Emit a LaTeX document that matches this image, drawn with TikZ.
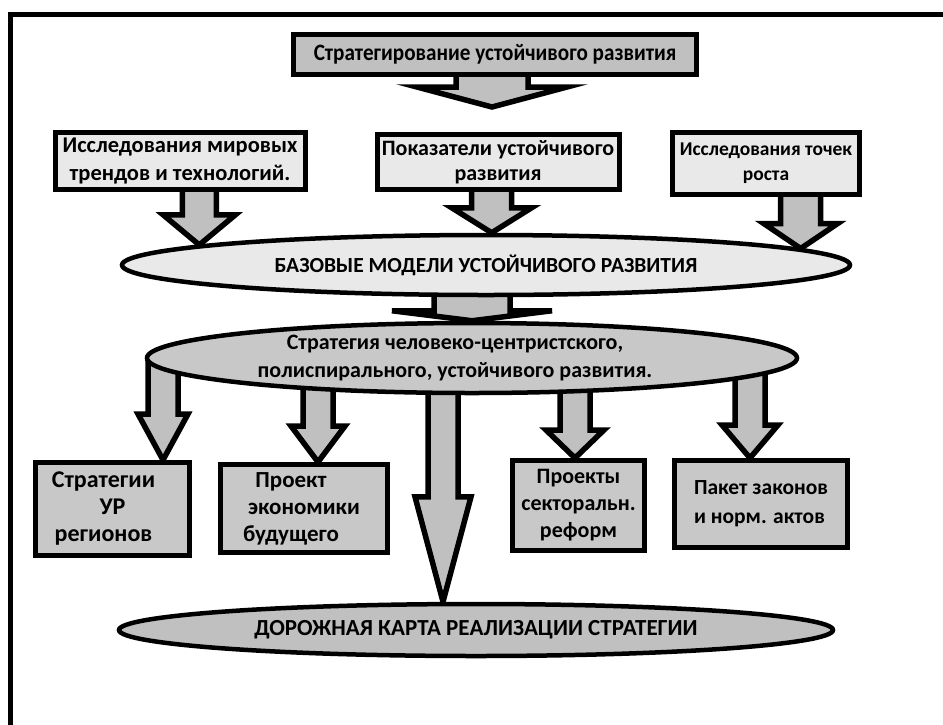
\documentclass[tikz,border=0pt]{standalone}
\usepackage{fontspec}
\setmainfont{Carlito}
\newfontfamily\schmal[FakeStretch=0.9]{Carlito}
\usetikzlibrary{shapes.geometric,calc,backgrounds}

\definecolor{hellgrau}{HTML}{E9E9E9}
\definecolor{mittelgrau}{HTML}{C8C8C8}
\definecolor{dunkelgrau}{HTML}{C0C0C0}

\tikzset{
	kasten/.style={draw, rectangle, line width=5pt, inner sep=0pt, align=center},
	oval/.style={draw, ellipse, line width=4.5pt, inner sep=0pt, align=center},
	fs/.style 2 args={font=\bfseries\fontsize{#1}{#2}\selectfont},
	blk/.style={draw, line width=5.5pt, fill=dunkelgrau, line join=miter},
}

% Blockpfeil: #1 Quelle (nur y), #2 Spitze, #3 halbe Schaftbreite, #4 halbe Kopfbreite, #5 Kopflaenge
\newcommand{\blockpfeil}[5]{%
	\draw[blk] let \p1=(#1), \p2=(#2) in
		(\x2-#3pt,\y1) -- (\x2-#3pt,\y2+#5pt) -- (\x2-#4pt,\y2+#5pt) -- (\x2,\y2)
		-- (\x2+#4pt,\y2+#5pt) -- (\x2+#3pt,\y2+#5pt) -- (\x2+#3pt,\y1) -- cycle;}

\begin{document}
\begin{tikzpicture}[x=1pt, y=-1pt]
	\useasboundingbox (0,0) rectangle (943,724);
	\clip (0,0) rectangle (943,724);
	%% Rahmen
	\draw[line width=5pt] (10,740) -- (10,14) -- (960,14);

	%% Kopf
	\node[kasten, fill=dunkelgrau, minimum width=403pt, minimum height=40pt, font=\schmal\bfseries\fontsize{23.5}{28}\selectfont] (top) at (495,54.5) {Стратегирование устойчивого развития};
	\coordinate (toptip) at ([xshift=-3pt, yshift=-30pt]top.south);

	%% Erste Reihe
	\node[kasten, fs={22.5}{28}, fill=hellgrau, minimum width=250pt, minimum height=57pt] (trends) at (180,161) {Исследования мировых\\трендов и технологий.};
	\node[kasten, fs={22}{25}, fill=hellgrau, minimum width=242pt, minimum height=55pt] (indic) at (498,162) {Показатели устойчивого\\развития};
	\node[kasten, fs={19.5}{25}, fill=hellgrau, minimum width=187pt, minimum height=62pt] (growth) at (766,163.5) {Исследования точек\\роста};

	%% Ovale
	\node[oval, fs={21.5}{26}, fill=hellgrau, minimum width=728pt, minimum height=60pt] (base) at (486,265) {БАЗОВЫЕ МОДЕЛИ УСТОЙЧИВОГО РАЗВИТИЯ};
	\node[oval, fs={22}{28}, fill=mittelgrau, minimum width=650pt, minimum height=70pt] (strat) at (472,358) {Стратегия человеко-центристского,\hspace*{34pt}\\полиспирального, устойчивого развития.\hspace*{34pt}};
	\node[oval, fs={23}{28}, fill=dunkelgrau, minimum width=714pt, minimum height=52pt] (road) at (476,630) {ДОРОЖНАЯ КАРТА РЕАЛИЗАЦИИ СТРАТЕГИИ};

	%% Untere Reihe
	\node[kasten, fs={24}{27}, fill=mittelgrau, minimum width=154pt, minimum height=93pt] (reg) at (112.5,509) {Стратегии\hspace*{18pt}\\УР\hspace*{18pt}\\регионов\hspace*{18pt}};
	\node[kasten, fs={23}{27}, fill=mittelgrau, minimum width=167pt, minimum height=88pt] (proj) at (304,508.5) {Проект\hspace*{26pt}\\экономики\hspace*{26pt}\\будущего\hspace*{26pt}};
	\node[kasten, fs={22}{27}, fill=mittelgrau, minimum width=132pt, minimum height=90pt] (sect) at (578.5,505.5) {Проекты\\секторальн.\\реформ};
	\node[kasten, fs={21.5}{29}, fill=mittelgrau, minimum width=173pt, minimum height=87pt, align=left] (laws) at (761,504) {Пакет законов\\и норм. актов};

	%% Pfeile
	\begin{pgfonlayer}{background}
		\blockpfeil{top.center}{toptip}{36}{75}{20}
		\blockpfeil{trends.center}{base.176.5}{17}{36}{30}
		\blockpfeil{indic.center}{base.80}{20}{40}{25}
		\blockpfeil{growth.center}{base.3.9}{20}{37}{25}
		\blockpfeil{base.center}{strat.north}{38}{80}{10}
		\blockpfeil{strat.center}{[xshift=50.5pt]reg.north}{15}{25}{46}
		\blockpfeil{strat.center}{[xshift=14pt]proj.north}{15}{27}{36}
		\blockpfeil{strat.center}{[xshift=-33pt]road.north}{15}{28}{105}
		\blockpfeil{strat.center}{[xshift=-3.5pt]sect.north}{15}{29}{28}
		\blockpfeil{strat.center}{[xshift=-11pt]laws.north}{15}{28}{33}
	\end{pgfonlayer}
\end{tikzpicture}
\end{document}
